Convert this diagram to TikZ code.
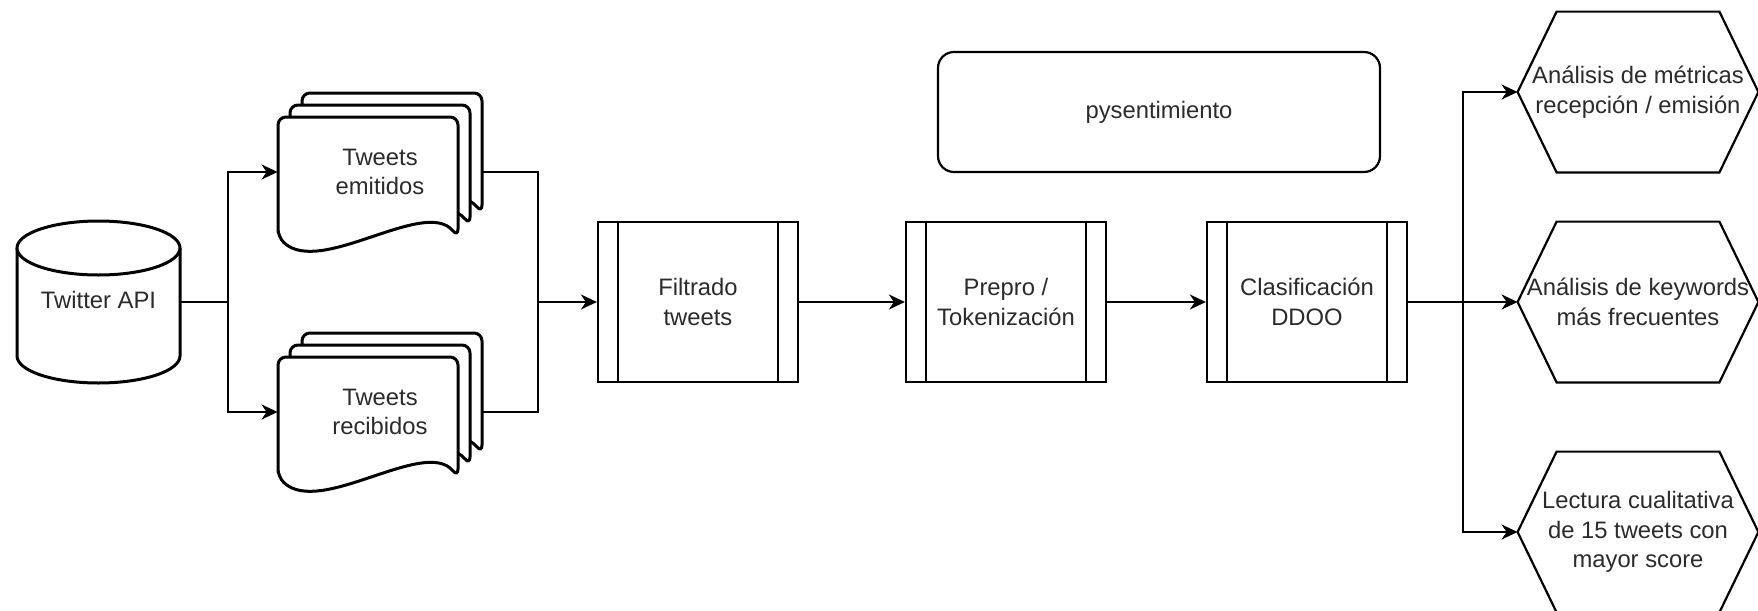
\documentclass[tikz,border=0pt]{standalone}
\usepackage{fontspec}
\setmainfont{Liberation Sans}
\usetikzlibrary{arrows.meta,calc}
\definecolor{txt}{HTML}{2B2B2B}
\newcommand\docpage[2]{%
  \draw[docline, rounded corners=4pt] (#1,#2+120) -- (#1,#2) -- (#1+180,#2) -- (#1+180,#2+120)
    .. controls (#1+147,#2+80) and (#1+42,#2+160) .. (#1,#2+120) -- cycle;}
\begin{document}
\begin{tikzpicture}[x=0.5pt,y=-0.5pt,
  every node/.style={font=\fontsize{11.9}{14.8}\selectfont, text=txt, align=center, inner sep=0pt},
  shp/.style={line width=1.1pt, draw=black, fill=white},
  docline/.style={line width=1.5pt, draw=black, fill=white},
  proc/.style={shp, minimum width=100pt, minimum height=80pt,
    path picture={
      \draw[line width=1.1pt] ([xshift=10pt]path picture bounding box.north west) -- ([xshift=10pt]path picture bounding box.south west);
      \draw[line width=1.1pt] ([xshift=-10pt]path picture bounding box.north east) -- ([xshift=-10pt]path picture bounding box.south east);}},
  hexbox/.style={minimum width=120pt, minimum height=80pt},
  conn/.style={line width=1pt, draw=black},
  arr/.style={conn, -{Stealth[length=8pt,width=7.5pt,inset=2.5pt]}},
]
\useasboundingbox (0,0) rectangle (1758,611);

% Twitter API cylinder
\node[minimum width=81.5pt, minimum height=81pt] (api) at (98.5,302) {};
\draw[shp, line width=1.5pt] (17,248) -- (17,356) arc[start angle=180, end angle=360, x radius=40.75pt, y radius=13.5pt] -- (180,248);
\draw[shp, line width=1.5pt] (98.5,248) ellipse [x radius=40.75pt, y radius=13.5pt];
\node at (98.5,300) {Twitter API};

% document stacks
\docpage{302}{93}\docpage{290}{105}\docpage{278}{117}
\docpage{302}{333}\docpage{290}{345}\docpage{278}{357}
\node[minimum width=102pt, minimum height=80pt] (em) at (380,172) {Tweets\\emitidos};
\node[minimum width=102pt, minimum height=80pt] (re) at (380,412) {Tweets\\recibidos};

% process boxes
\node[proc] (filt) at (698,302) {Filtrado\\tweets};
\node[proc] (prep) at (1006,302) {Prepro /\\Tokenización};
\node[proc] (clas) at (1307,302) {Clasificación\\DDOO};

% pysentimiento
\node[draw=black, line width=1.1pt, rounded corners=8pt, minimum width=221pt, minimum height=60pt] (pys) at (1159,112) {pysentimiento};

% hexagons
\foreach \n/\y in {h1/92, h2/302, h3/532}{
  \node[hexbox] (\n) at (1638,\y) {};
  \draw[shp] (\n.west) -- ([xshift=19.5pt]\n.north west) -- ([xshift=-19.5pt]\n.north east) -- (\n.east)
     -- ([xshift=-19.5pt]\n.south east) -- ([xshift=19.5pt]\n.south west) -- cycle;
}
\node at (h1) {Análisis de métricas\\recepción / emisión};
\node at (h2) {Análisis de keywords\\más frecuentes};
\node at (h3) {Lectura cualitativa\\de 15 tweets con\\mayor score};

% connectors
\coordinate (j1) at (228,302);
\coordinate (j2) at (538,302);
\coordinate (j3) at (1463,302);
\draw[conn] (api.east) -- (j1);
\draw[arr] (j1) |- (em.west);
\draw[arr] (j1) |- (re.west);
\draw[conn] (em.east) -| (j2);
\draw[conn] (re.east) -| (j2);
\draw[arr] (j2) -- (filt.west);
\draw[arr] (filt.east) -- (prep.west);
\draw[arr] (prep.east) -- (clas.west);
\draw[conn] (clas.east) -- (j3);
\draw[arr] (j3) |- (h1.west);
\draw[arr] (j3) -- (h2.west);
\draw[arr] (j3) |- (h3.west);
\end{tikzpicture}
\end{document}
